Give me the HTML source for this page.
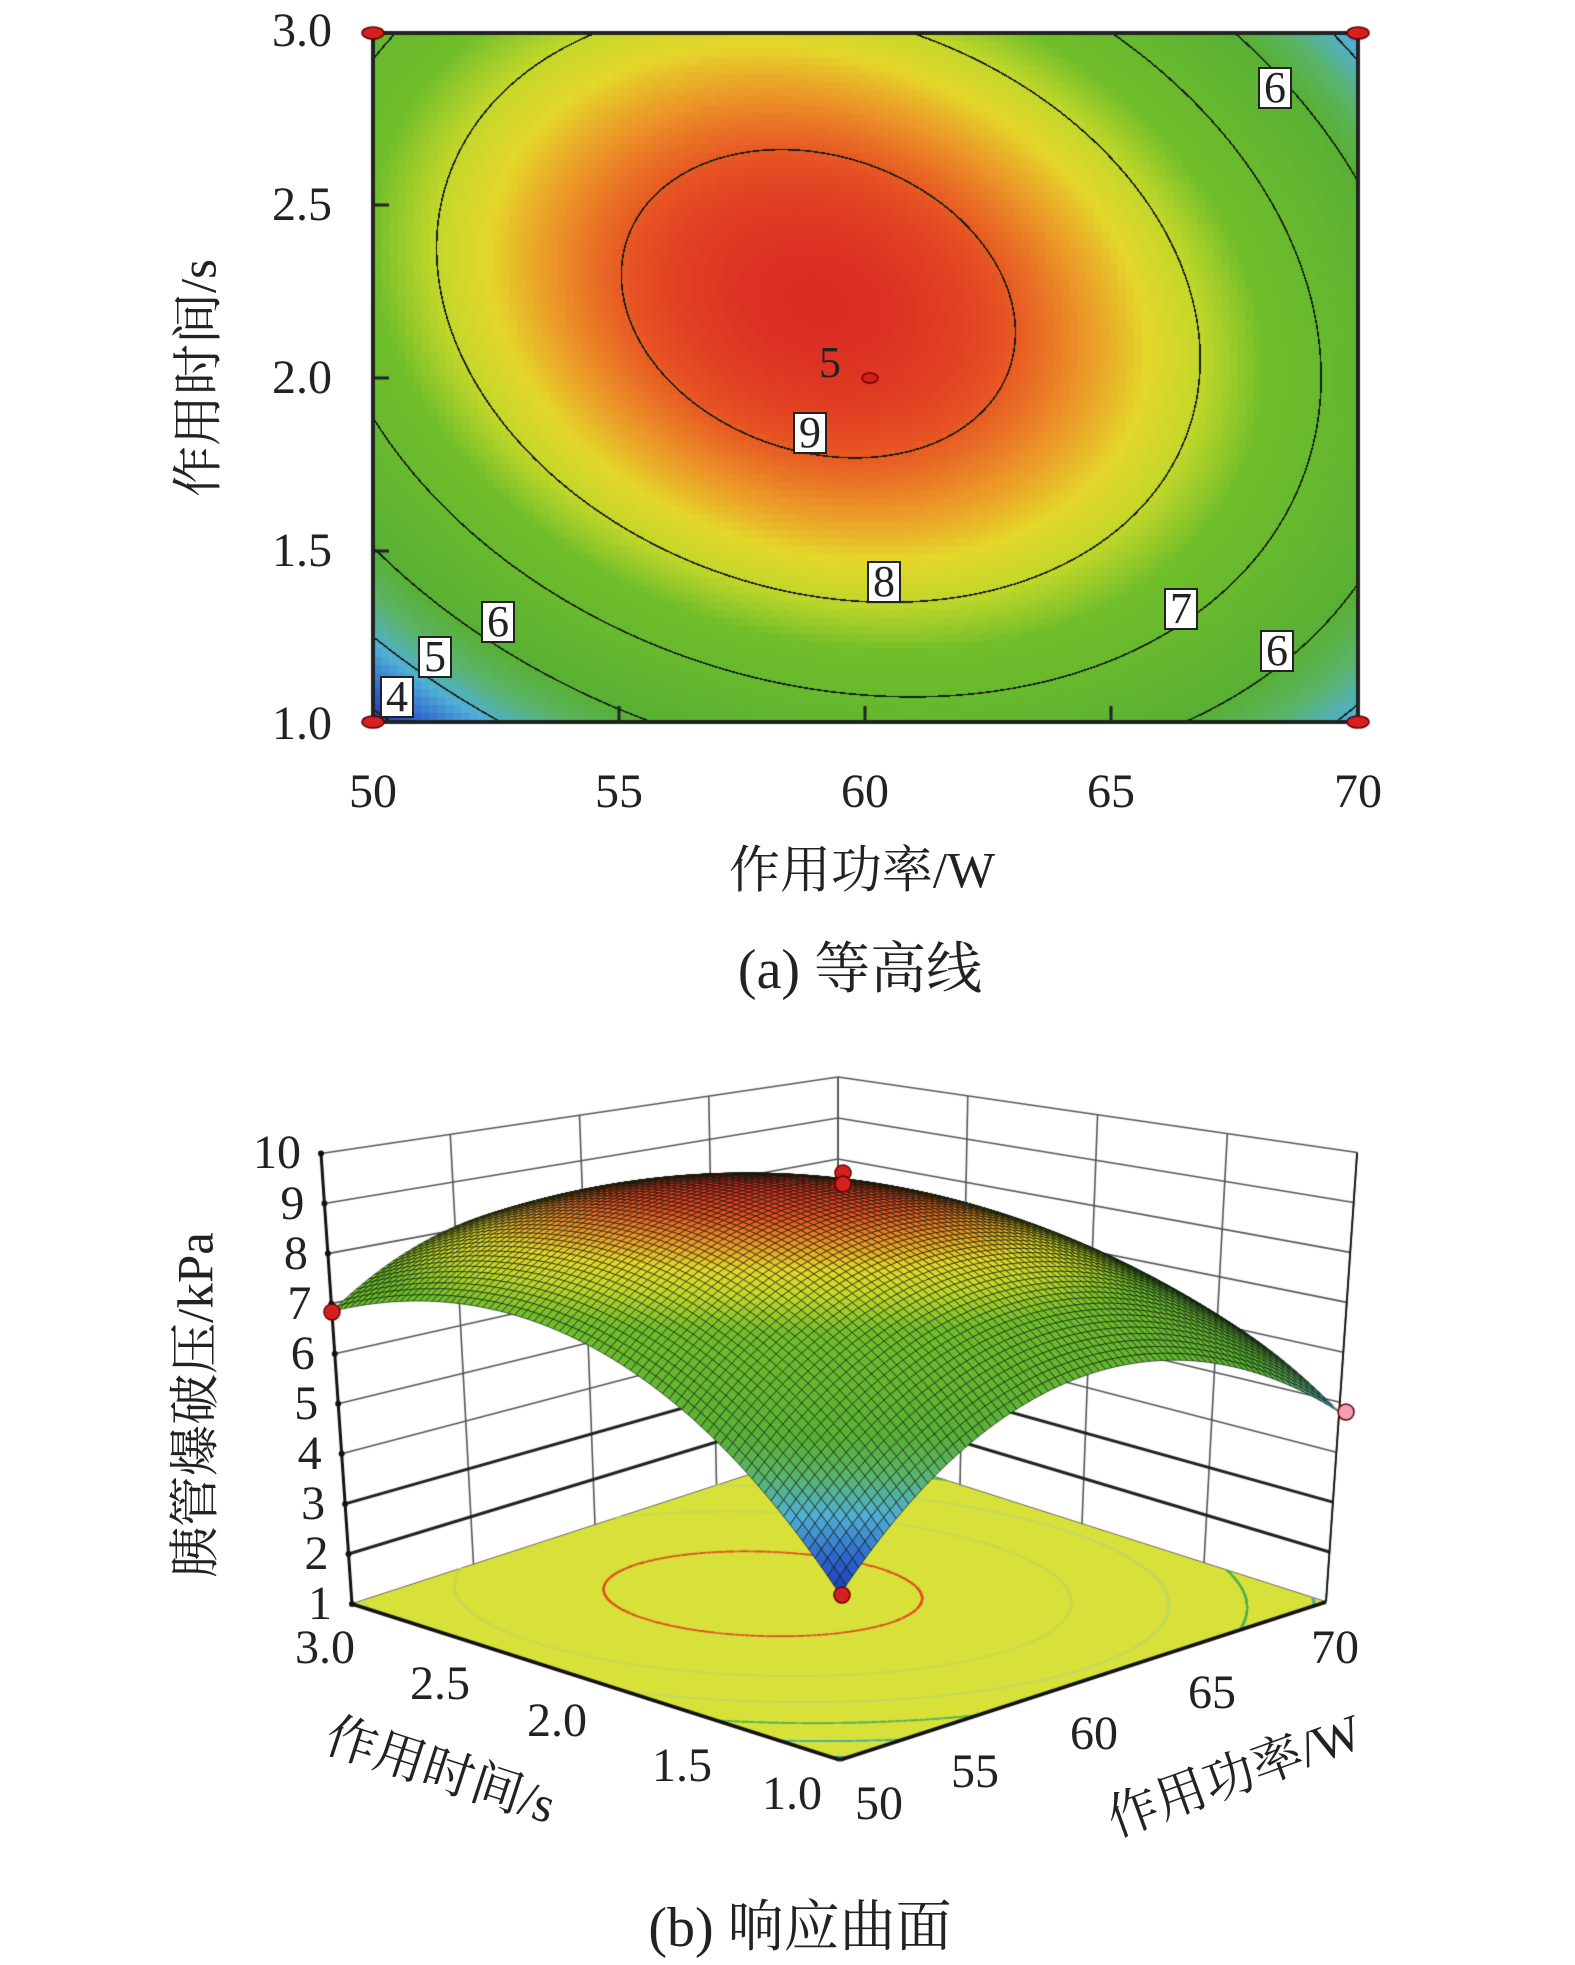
<!DOCTYPE html>
<html><head><meta charset="utf-8"><style>
html,body{margin:0;padding:0;background:#fff}
#w{position:relative;width:1575px;height:1965px;overflow:hidden;background:#fff;font-family:"Liberation Serif","Noto Serif CJK SC",serif;color:#222}
canvas{position:absolute;left:0;top:0}
.t{position:absolute;white-space:nowrap;line-height:1}
.n{font-size:48px}
.c{transform:translate(-50%,-50%)}
.r{transform:translate(-100%,-50%)}
.box{position:absolute;background:#fff;border:2px solid #222;font-size:44px;line-height:38px;width:30px;text-align:center;transform:translate(-50%,-50%)}
</style></head><body><div id="w">
<canvas id="cv" width="1575" height="1965"></canvas>
<div class="t n r" style="left:332px;top:31px">3.0</div>
<div class="t n r" style="left:332px;top:205px">2.5</div>
<div class="t n r" style="left:332px;top:378px">2.0</div>
<div class="t n r" style="left:332px;top:551px">1.5</div>
<div class="t n r" style="left:332px;top:724px">1.0</div>
<div class="t n c" style="left:373px;top:792px">50</div>
<div class="t n c" style="left:619px;top:792px">55</div>
<div class="t n c" style="left:865px;top:792px">60</div>
<div class="t n c" style="left:1111px;top:792px">65</div>
<div class="t n c" style="left:1358px;top:792px">70</div>
<div class="t c" style="left:862px;top:872px;font-size:51px">作用功率/W</div>
<div class="t c" style="left:200px;top:378px;font-size:51px;transform:translate(-50%,-50%) rotate(-90deg)">作用时间/s</div>
<div class="t c" style="left:860px;top:970px;font-size:56px">(a) 等高线</div>
<div class="box" style="left:1275px;top:88px">6</div>
<div class="t c" style="left:830px;top:363px;font-size:44px">5</div>
<div class="box" style="left:810px;top:433px">9</div>
<div class="box" style="left:884px;top:582px">8</div>
<div class="box" style="left:1181px;top:609px">7</div>
<div class="box" style="left:1277px;top:651px">6</div>
<div class="box" style="left:498px;top:622px">6</div>
<div class="box" style="left:435px;top:657px">5</div>
<div class="box" style="left:397px;top:697px">4</div>
<div id="zl"></div>
<div class="t n c" style="left:325px;top:1648px">3.0</div>
<div class="t n c" style="left:440px;top:1684px">2.5</div>
<div class="t n c" style="left:557px;top:1721px">2.0</div>
<div class="t n c" style="left:682px;top:1766px">1.5</div>
<div class="t n c" style="left:792px;top:1794px">1.0</div>
<div class="t n c" style="left:879px;top:1804px">50</div>
<div class="t n c" style="left:975px;top:1772px">55</div>
<div class="t n c" style="left:1094px;top:1734px">60</div>
<div class="t n c" style="left:1212px;top:1693px">65</div>
<div class="t n c" style="left:1335px;top:1648px">70</div>
<div class="t c" style="left:440px;top:1772px;font-size:51px;transform:translate(-50%,-50%) rotate(18deg)">作用时间/s</div>
<div class="t c" style="left:1235px;top:1777px;font-size:51px;transform:translate(-50%,-50%) rotate(-20deg)">作用功率/W</div>
<div class="t c" style="left:197px;top:1405px;font-size:51px;transform:translate(-50%,-50%) rotate(-90deg)">胰管爆破压/kPa</div>
<div class="t c" style="left:800px;top:1928px;font-size:56px">(b) 响应曲面</div>
</div>
<script>
var b0=9.27,b1=-0.285,b2=0.735,b12=-0.785,b11=-2.35,b22=-1.88;
function f(u,v){return b0+b1*u+b2*v+b12*u*v+b11*u*u+b22*v*v;}
function g(u,v){return [b1+b12*v+2*b11*u, b2+b12*u+2*b22*v];}
var st=[[3.7,[25,45,180]],[4.3,[45,100,205]],[4.9,[80,175,215]],[5.5,[90,180,100]],[6.0,[88,176,52]],[7.5,[112,190,42]],[8.0,[195,215,42]],[8.35,[228,215,42]],[8.7,[236,150,40]],[9.05,[230,80,35]],[9.4,[218,40,35]]];
function col(z){if(z<=st[0][0])return st[0][1];for(var i=1;i<st.length;i++){if(z<=st[i][0]){var a=st[i-1],b=st[i],t=(z-a[0])/(b[0]-a[0]);return [0,1,2].map(function(k){return Math.round(a[1][k]+(b[1][k]-a[1][k])*t)});}}return st[st.length-1][1];}
var cv=document.getElementById('cv'),c=cv.getContext('2d');
var X0=373,X1=1358,Y0=33,Y1=722,W=X1-X0,H=Y1-Y0;
var img=c.createImageData(W,H);
var cell=8;
for(var y=0;y<H;y++)for(var x=0;x<W;x++){
 var cx=Math.floor(x/cell)*cell+cell/2,cy=Math.floor(y/cell)*cell+cell/2;
 var u=cx/W*2-1,v=1-cy/H*2;var cc=col(f(u,v));
 var uu=x/W*2-1,vv=1-y/H*2,z=f(uu,vv),gr=g(uu,vv);
 var gx=gr[0]*2/W,gy=gr[1]*2/H,gm=Math.sqrt(gx*gx+gy*gy);
 var line=false;for(var L=4;L<=9;L++){if(Math.abs(z-L)/gm<0.8)line=true;}
 var i=(y*W+x)*4;
 if(line){img.data[i]=20;img.data[i+1]=30;img.data[i+2]=20;}else{img.data[i]=cc[0];img.data[i+1]=cc[1];img.data[i+2]=cc[2];}
 img.data[i+3]=255;}
c.putImageData(img,X0,Y0);
c.strokeStyle='#222';c.lineWidth=4;c.strokeRect(X0,Y0,W,H);
c.lineWidth=3;[619,865,1111].forEach(function(x){c.beginPath();c.moveTo(x,Y1);c.lineTo(x,Y1-16);c.stroke();});
[205,378,551].forEach(function(y){c.beginPath();c.moveTo(X0,y);c.lineTo(X0+16,y);c.stroke();});
function dot(x,y,rx,ry,fc){c.beginPath();c.ellipse(x,y,rx,ry,0,0,Math.PI*2);c.fillStyle=fc;c.fill();c.lineWidth=1.5;c.strokeStyle='#600';c.stroke();}
dot(X0,Y0,11,6,'#d62020');dot(X1,Y0,11,6,'#d62020');dot(X0,Y1,11,6,'#d62020');dot(X1,Y1,11,6,'#d62020');
dot(870,378,8,5,'#d62020');
var F=[840,1760],Lc=[352,1604],Rc=[1326,1602];
function fl(u,v){var a=(u+1)/2,b=(v+1)/2;return [F[0]+a*(Rc[0]-F[0])+b*(Lc[0]-F[0]),F[1]+a*(Rc[1]-F[1])+b*(Lc[1]-F[1])];}
function P3(u,v,z){var p=fl(u,v);var s=50*(1+(p[1]-1603)/157*0.18);return [p[0]+(p[0]-838)*(z-1)*0.00709,p[1]-s*(z-1)];}
c.strokeStyle='#555';c.lineWidth=1.6;
function seg(a,b){c.beginPath();c.moveTo(a[0],a[1]);c.lineTo(b[0],b[1]);c.stroke();}
for(var z=1;z<=10;z++){seg(P3(-1,1,z),P3(1,1,z));seg(P3(1,1,z),P3(1,-1,z));}
for(var k=0;k<=4;k++){var u=-1+k*0.5;seg(P3(u,1,1),P3(u,1,10));seg(P3(1,u,1),P3(1,u,10));}
c.strokeStyle='#222';c.lineWidth=3;seg(P3(-1,1,2),P3(1,1,2));seg(P3(1,1,2),P3(1,-1,2));seg(P3(-1,1,3),P3(1,1,3));seg(P3(1,1,3),P3(1,-1,3));
c.beginPath();var q=[fl(-1,-1),fl(1,-1),fl(1,1),fl(-1,1)];c.moveTo(q[0][0],q[0][1]);q.forEach(function(p){c.lineTo(p[0],p[1]);});c.closePath();c.fillStyle='#d8e03a';c.fill();
var lc={9:'#e05020',8:'#c8d850',7:'#c0d860',6:'#50b050',5:'#40b0a0',4:'#3080c0'};
for(var L=4;L<=9;L++){c.fillStyle=lc[L];for(var i=0;i<=500;i++)for(var j=0;j<=500;j++){var u=i/250-1,v=j/250-1;var z=f(u,v),gr=g(u,v),gm=Math.sqrt(gr[0]*gr[0]+gr[1]*gr[1]);if(Math.abs(z-L)/gm<0.0025){var p=fl(u,v);c.fillRect(p[0]-0.8,p[1]-0.8,1.6,1.6);}}}
c.strokeStyle='#111';c.lineWidth=3.5;seg(fl(-1,1),fl(-1,-1));seg(fl(-1,-1),fl(1,-1));
c.lineWidth=3;seg(P3(-1,1,1),P3(-1,1,10));c.lineWidth=1.8;seg(P3(1,-1,1),P3(1,-1,10));
c.fillStyle='#111';for(var z=1;z<=10;z++){var p=P3(-1,1,z);c.beginPath();c.arc(p[0],p[1],3,0,7);c.fill();}
var N=80,quads=[];
for(var i=0;i<N;i++)for(var j=0;j<N;j++){var u0=-1+2*i/N,u1=-1+2*(i+1)/N,v0=-1+2*j/N,v1=-1+2*(j+1)/N;quads.push([u0,u1,v0,v1,(u0+u1+v0+v1)]);}
quads.sort(function(a,b){return b[4]-a[4];});
c.lineWidth=0.8;c.strokeStyle='rgba(10,20,10,0.8)';
quads.forEach(function(Q){var pts=[[Q[0],Q[2]],[Q[1],Q[2]],[Q[1],Q[3]],[Q[0],Q[3]]].map(function(a){return P3(a[0],a[1],f(a[0],a[1]));});
 var cc=col(f((Q[0]+Q[1])/2,(Q[2]+Q[3])/2));c.fillStyle='rgb('+cc.join(',')+')';
 c.beginPath();c.moveTo(pts[0][0],pts[0][1]);for(var k=1;k<4;k++)c.lineTo(pts[k][0],pts[k][1]);c.closePath();c.fill();c.stroke();});
function dp(x,y,fc){c.beginPath();c.arc(x,y,8,0,7);c.fillStyle=fc;c.fill();c.lineWidth=1.5;c.strokeStyle='#600';c.stroke();}
dp(843,1173,'#d62020');dp(843,1184,'#d62020');dp(332,1312,'#d62020');dp(1346,1412,'#f0a0b0');dp(842,1595,'#d62020');
var zl=document.getElementById('zl'),h='';
for(var z=1;z<=10;z++){var p=P3(-1,1,z);h+='<div class="t n r" style="left:'+(p[0]-20)+'px;top:'+p[1]+'px">'+z+'</div>';}
zl.innerHTML=h;
</script>
</body></html>
